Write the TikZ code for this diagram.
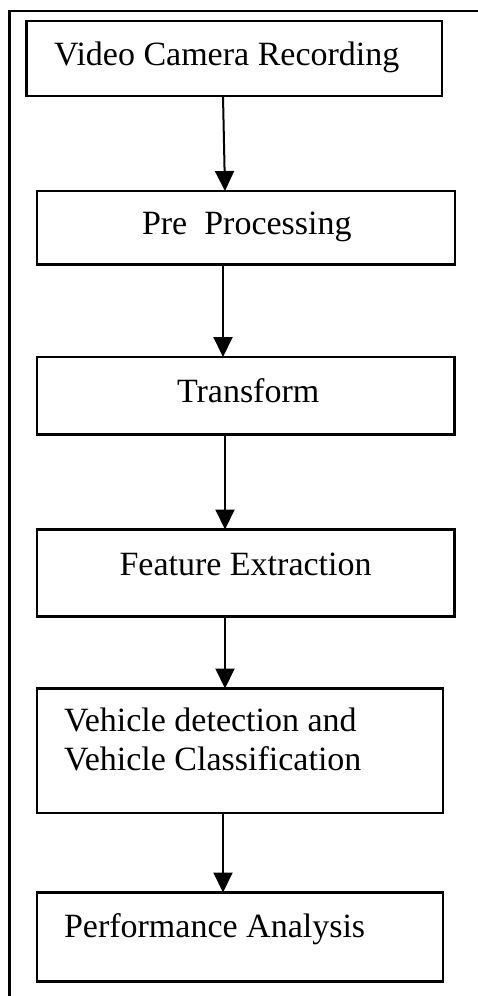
\documentclass[tikz,border=0pt]{standalone}
\usepackage{fontspec}
\setmainfont{Liberation Serif}
\usetikzlibrary{arrows.meta,fit}
\tikzset{
  box/.style={draw=black, line width=2.8pt, inner sep=0pt, outer sep=0pt, fill=none},
  txt/.style={inner sep=0pt, outer sep=0pt, anchor=base west, font=\fontsize{34}{39}\selectfont, text=black},
  arr/.style={line width=2pt, -{Triangle[length=20pt,width=19pt]}},
  frameline/.style={line width=2.7pt, line cap=rect}
}
\begin{document}
\begin{tikzpicture}[x={(1pt,0pt)}, y={(0pt,-1pt)}]
\useasboundingbox (0,0) rectangle (478,996);
% outer frame (cropped)
\coordinate (fr) at (478,11);
\coordinate (fc) at (9.5,11);
\coordinate (fb) at (9.5,996);
\draw[frameline] (fr) -- (fc) -- (fb);
% boxes
\node[box, fit={(26.5,21) (442,96)}] (b1) {};
\node[box, fit={(37,191) (455,264.5)}] (b2) {};
\node[box, fit={(37,357) (454.5,434.5)}] (b3) {};
\node[box, fit={(37,529.5) (454.5,616.5)}] (b4) {};
\node[box, fit={(37,688.5) (443,813)}] (b5) {};
\node[box, fit={(37,892.5) (443,981.5)}] (b6) {};
% texts
\node[txt] (t1) at (54,65) {Video Camera Recording};
\node[txt] (t2) at (142,234.5) {Pre\ \ Processing};
\node[txt] (t3) at (177,402) {Transform};
\node[txt] (t4) at (119.5,575) {Feature Extraction};
\node[txt] (t5a) at (64,731) {Vehicle detection and};
\node[txt] (t5b) at (64,770) {Vehicle Classification};
\node[txt] (t6) at (64,937) {Performance Analysis};
% arrows
\draw[arr] ([xshift=196.5pt]b1.south west) -- ([xshift=188pt]b2.north west);
\draw[arr] ([xshift=186pt]b2.south west) -- ([xshift=186pt]b3.north west);
\draw[arr] ([xshift=188pt]b3.south west) -- ([xshift=188pt]b4.north west);
\draw[arr] ([xshift=188pt]b4.south west) -- ([xshift=188pt]b5.north west);
\draw[arr] ([xshift=186pt]b5.south west) -- ([xshift=186pt]b6.north west);
\end{tikzpicture}
\end{document}
